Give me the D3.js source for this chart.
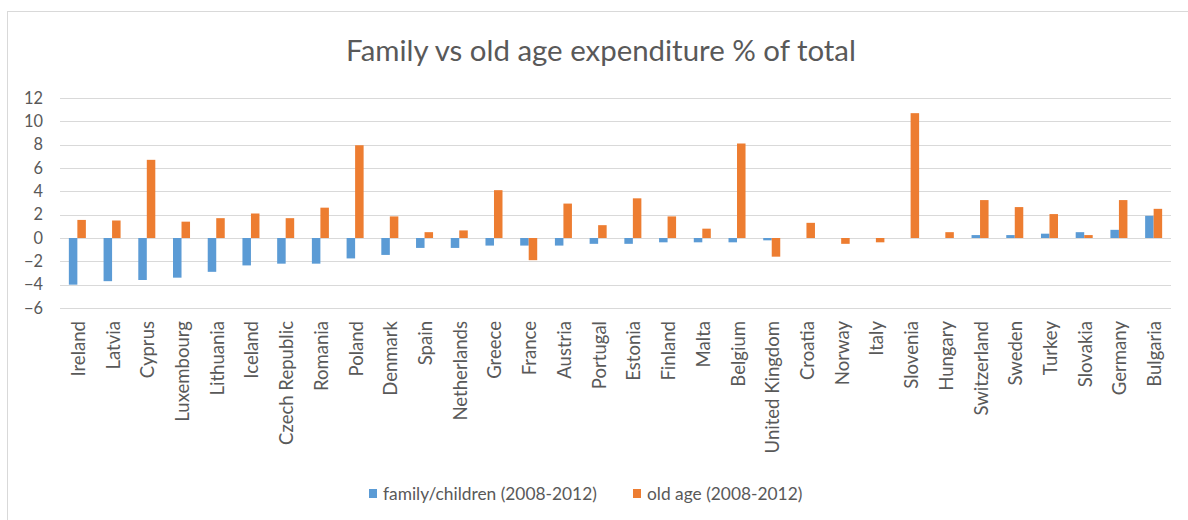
<!DOCTYPE html>
<html><head><meta charset="utf-8">
<script src="https://cdn.jsdelivr.net/npm/d3@7"></script>
<style>body{margin:0;background:#fff;} svg{display:block;font-family:Lato,"Open Sans",sans-serif;}</style>
</head><body><svg id="c" width="1188" height="520"></svg>
<script>
const categories = ["Ireland","Latvia","Cyprus","Luxembourg","Lithuania","Iceland","Czech Republic","Romania","Poland","Denmark","Spain","Netherlands","Greece","France","Austria","Portugal","Estonia","Finland","Malta","Belgium","United Kingdom","Croatia","Norway","Italy","Slovenia","Hungary","Switzerland","Sweden","Turkey","Slovakia","Germany","Bulgaria"];
const familyValues = [-4.0,-3.7,-3.6,-3.4,-2.9,-2.35,-2.2,-2.2,-1.75,-1.45,-0.85,-0.85,-0.65,-0.65,-0.65,-0.5,-0.5,-0.37,-0.37,-0.37,-0.2,0,0,0,0,0,0.25,0.25,0.37,0.5,0.7,1.9];
const oldAgeValues = [1.55,1.5,6.7,1.4,1.7,2.1,1.7,2.6,7.95,1.85,0.5,0.65,4.1,-1.9,2.95,1.1,3.4,1.85,0.8,8.1,-1.6,1.3,-0.5,-0.37,10.7,0.5,3.25,2.65,2.05,0.25,3.25,2.5];
const yTicks = [-6,-4,-2,0,2,4,6,8,10,12];
const seriesNames = ["family/children (2008-2012)","old age (2008-2012)"];
const colors = ["#5b9bd5","#ed7d31"];
const title = "Family vs old age expenditure % of total";

const svg = d3.select("#c");
const textColor = "#595959";
const FONT = "Lato,'Open Sans',sans-serif";

// fit a font size so that a sample string reaches a target width
function fitSize(sample, target, base){
  const t = svg.append("text").style("font-family",FONT).style("font-size",base+"px").text(sample);
  const w = t.node().getComputedTextLength();
  t.remove();
  return base*target/w;
}
const titleSize = fitSize(title, 510, 25);
const xLabSize = fitSize("Czech Republic", 124, 14);
const yLabSize = fitSize("12", 19, 14);
const legSize = fitSize(seriesNames[0], 214, 15);

// chart border
svg.append("rect").attr("x",7.5).attr("y",11.5).attr("width",1200).attr("height",520).attr("fill","none").attr("stroke","#d9d9d9");

const x = d3.scaleBand().domain(categories).range([60,1171]).paddingInner(0.51).paddingOuter(0.255);
const x1 = d3.scaleBand().domain([0,1]).range([0,x.bandwidth()]);
const y = d3.scaleLinear().domain([-6,12]).range([308,98]);

// gridlines
svg.append("g").selectAll("line").data(yTicks).join("line")
  .attr("x1",60).attr("x2",1171).attr("y1",d=>Math.round(y(d))+0.5).attr("y2",d=>Math.round(y(d))+0.5)
  .attr("stroke","#d9d9d9").attr("stroke-width",1);

// y axis labels
const yAxis = d3.axisLeft(y).tickValues(yTicks).tickSize(0).tickPadding(0);
const ya = svg.append("g").attr("transform","translate(43,0)").call(yAxis);
ya.select(".domain").remove();
ya.selectAll("text").attr("fill",textColor).style("font-size",yLabSize+"px").style("font-family",FONT);

// bars
const groups = svg.append("g").selectAll("g").data(categories).join("g")
  .attr("transform",d=>`translate(${x(d)},0)`);
groups.selectAll("rect").data((d,i)=>[familyValues[i],oldAgeValues[i]]).join("rect")
  .attr("x",(d,j)=>x1(j)).attr("width",x1.bandwidth())
  .attr("y",d=>y(Math.max(0,d))).attr("height",d=>Math.abs(y(d)-y(0)))
  .attr("fill",(d,j)=>colors[j]);

// x axis labels
const xAxis = d3.axisBottom(x).tickSize(0).tickPadding(0);
const xa = svg.append("g").call(xAxis);
xa.select(".domain").remove();
xa.selectAll(".tick").attr("transform",d=>`translate(${x(d)+x.bandwidth()/2},0)`);
xa.selectAll("text").attr("fill",textColor).style("font-size",xLabSize+"px").style("font-family",FONT)
  .attr("transform","translate(1,321) rotate(-90)").attr("y",0).attr("x",0).attr("dy","0.35em")
  .attr("text-anchor","end");

// title
svg.append("text").attr("x",601).attr("y",61).attr("text-anchor","middle").attr("fill",textColor)
  .style("font-size",titleSize+"px").text(title);

// legend
const legendX = [369,633];
const lg = svg.append("g").selectAll("g").data(seriesNames).join("g").attr("transform",(d,i)=>`translate(${legendX[i]},0)`);
lg.append("rect").attr("x",0).attr("y",489).attr("width",8).attr("height",9).attr("fill",(d,i)=>colors[i]);
lg.append("text").attr("x",14).attr("y",500).attr("fill",textColor).style("font-size",legSize+"px").text(d=>d);
</script></body></html>
